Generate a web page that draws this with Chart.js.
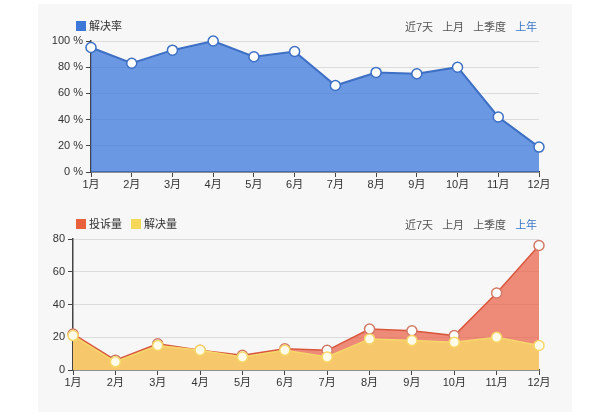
<!DOCTYPE html>
<html lang="zh">
<head>
  <meta charset="UTF-8">
  <title>解决率</title>
  <script src="https://cdn.jsdelivr.net/npm/chart.js"></script>
  <style>
    body {
      margin: 0;
      background: #fff;
      font-family: "Liberation Sans", "Noto Sans CJK SC", sans-serif;
    }
    #panel {
      position: absolute;
      left: 38px;
      top: 4px;
      width: 534px;
      height: 408px;
      background: #f7f7f7;
    }
    .box {
      position: absolute;
      width: 534px;
      height: 190px;
    }
    .legend, .ranges {
      position: absolute;
      font-size: 11px;
      color: #333;
      line-height: 14px;
      white-space: nowrap;
    }
    .legend span.sw {
      display: inline-block;
      width: 10px;
      height: 10px;
      margin-right: 3px;
      vertical-align: -1px;
    }
    .legend span.item { margin-right: 6px; }
    .ranges span { margin-left: 9px; color: #555; }
    .ranges span.on { color: #3b78c9; }
  </style>
</head>
<body>
  <div id="panel">
    <div class="box" style="top: 6px;">
      <canvas id="rateChart"></canvas>
    </div>
    <div class="legend" style="left: 38px; top: 15px;">
      <span class="item"><span class="sw" style="background:#3d78d8"></span>解决率</span>
    </div>
    <div class="ranges" style="left: 358px; top: 16px;">
      <span>近7天</span><span>上月</span><span>上季度</span><span class="on">上年</span>
    </div>

    <div class="box" style="top: 206px;">
      <canvas id="countChart"></canvas>
    </div>
    <div class="legend" style="left: 38px; top: 213px;">
      <span class="item"><span class="sw" style="background:#e8603c"></span>投诉量</span>
      <span class="item"><span class="sw" style="background:#f5d85a"></span>解决量</span>
    </div>
    <div class="ranges" style="left: 358px; top: 214px;">
      <span>近7天</span><span>上月</span><span>上季度</span><span class="on">上年</span>
    </div>
  </div>

  <script>
    const months = ['1月', '2月', '3月', '4月', '5月', '6月', '7月', '8月', '9月', '10月', '11月', '12月'];
    const resolveRate = [95, 83, 93, 100, 88, 92, 66, 76, 75, 80, 42, 19];
    const complaints = [22, 6, 16, 12, 9, 13, 12, 25, 24, 21, 47, 76];
    const resolved = [21, 5, 15, 12, 8, 12, 8, 19, 18, 17, 20, 15];

    Chart.defaults.font.family = '"Liberation Sans", "Noto Sans CJK SC", sans-serif';
    Chart.defaults.font.size = 11;
    Chart.defaults.color = '#333';
    Chart.defaults.animation = false;

    // shared axis setup, only the y range and left width differ
    function makeScales(yMax, yWidth, xHeight, yFmt) {
      return {
        x: {
          offset: false,
          grid: {
            drawOnChartArea: false,
            drawTicks: true,
            tickLength: 5,
            tickColor: '#444'
          },
          border: { color: '#444', width: 1.5 },
          ticks: { padding: 1, maxRotation: 0, autoSkip: false },
          afterFit: (scale) => { scale.height = xHeight; }
        },
        y: {
          min: 0,
          max: yMax,
          ticks: { stepSize: 20, padding: 3, callback: yFmt },
          grid: { color: '#dcdcdc', tickLength: 5, tickColor: '#444' },
          border: { color: '#444', width: 1.5 },
          afterFit: (scale) => { scale.width = yWidth; }
        }
      };
    }

    new Chart(document.getElementById('rateChart'), {
      type: 'line',
      data: {
        labels: months,
        datasets: [{
          label: '解决率',
          data: resolveRate,
          clip: false,
          borderColor: '#3d6fc4',
          borderWidth: 2,
          backgroundColor: 'rgba(60, 120, 220, 0.75)',
          fill: 'origin',
          tension: 0,
          pointRadius: 5,
          pointBorderWidth: 1.5,
          pointBackgroundColor: '#fff',
          pointBorderColor: '#3d6fc4'
        }]
      },
      options: {
        responsive: true,
        maintainAspectRatio: false,
        layout: { padding: { top: 31, right: 33, bottom: 0, left: 0 } },
        plugins: { legend: { display: false }, tooltip: { enabled: false } },
        scales: makeScales(100, 53, 28, (v) => v + ' %')
      }
    });

    new Chart(document.getElementById('countChart'), {
      type: 'line',
      data: {
        labels: months,
        datasets: [
          {
            label: '投诉量',
            data: complaints,
            order: 1,
            clip: false,
            borderColor: '#d9573d',
            borderWidth: 1.5,
            backgroundColor: 'rgba(233, 95, 70, 0.72)',
            fill: 'origin',
            tension: 0,
            pointRadius: 5,
            pointBorderWidth: 1.5,
            pointBackgroundColor: '#fff',
            pointBorderColor: '#d27a66'
          },
          {
            label: '解决量',
            data: resolved,
            order: 0,
            clip: false,
            borderColor: '#f6d86a',
            borderWidth: 1.5,
            backgroundColor: '#f6c86b',
            fill: 'origin',
            tension: 0,
            pointRadius: 5,
            pointBorderWidth: 1.5,
            pointBackgroundColor: '#fffbea',
            pointBorderColor: '#f6d86a'
          }
        ]
      },
      options: {
        responsive: true,
        maintainAspectRatio: false,
        layout: { padding: { top: 29, right: 33, bottom: 0, left: 0 } },
        plugins: { legend: { display: false }, tooltip: { enabled: false } },
        scales: makeScales(80, 35, 30, (v) => v)
      }
    });
  </script>
</body>
</html>
